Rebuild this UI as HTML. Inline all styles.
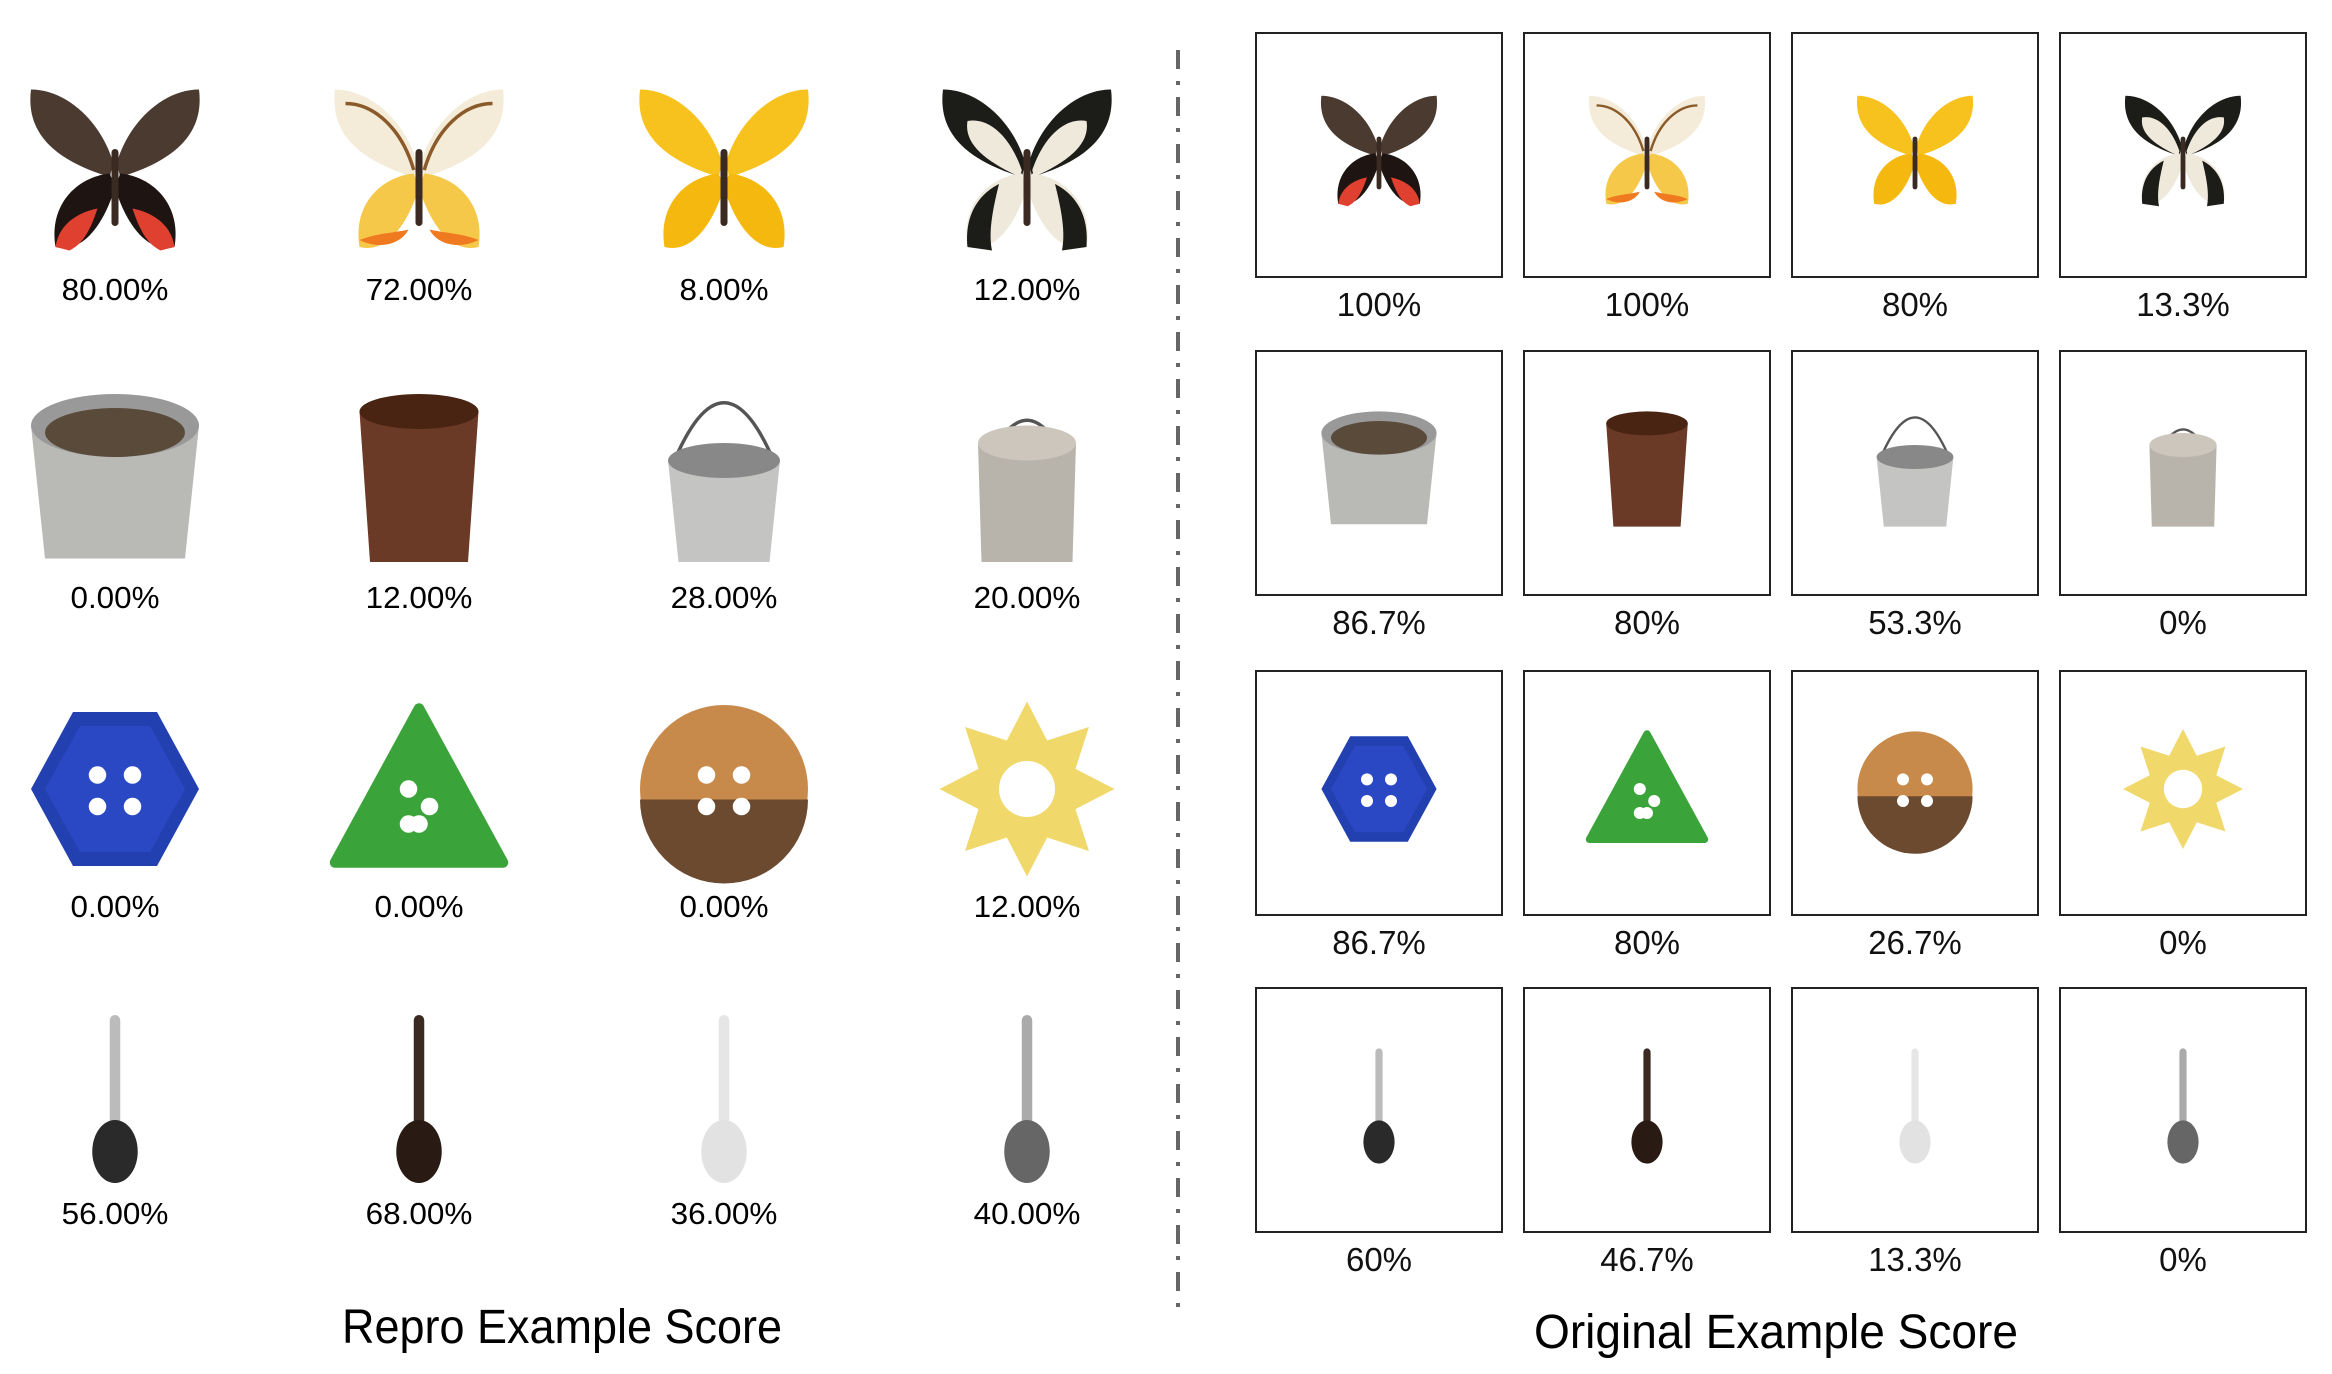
<!DOCTYPE html>
<html><head><meta charset="utf-8">
<style>
html,body{margin:0;padding:0;background:#fff;}
body{width:2332px;height:1374px;overflow:hidden;position:relative;}
svg{position:absolute;left:0;top:0;}
</style></head>
<body>
<svg id="fig" width="2332" height="1374" viewBox="0 0 2332 1374" xmlns="http://www.w3.org/2000/svg">
<g id="left-panel"></g>
<g id="right-panel"></g>
<line x1="1178" y1="50" x2="1178" y2="1318" stroke="#666" stroke-width="4" stroke-dasharray="19,12,4,12"/>
<text x="562" y="1343" text-anchor="middle" textLength="440" lengthAdjust="spacingAndGlyphs" font-family="'Liberation Sans Narrow','Liberation Sans',sans-serif" font-size="48" fill="#000">Repro Example Score</text>
<text x="1776" y="1348" text-anchor="middle" textLength="484" lengthAdjust="spacingAndGlyphs" font-family="'Liberation Sans Narrow','Liberation Sans',sans-serif" font-size="48" fill="#000">Original Example Score</text>
</svg>
<script>
const reproScores = ["80.00%","72.00%","8.00%","12.00%","0.00%","12.00%","28.00%","20.00%","0.00%","0.00%","0.00%","12.00%","56.00%","68.00%","36.00%","40.00%"];
const originalScores = ["100%","100%","80%","13.3%","86.7%","80%","53.3%","0%","86.7%","80%","26.7%","0%","60%","46.7%","13.3%","0%"];
const itemKinds = ["butterfly","butterfly","butterfly","butterfly","bucket","bucket","bucket","bucket","button","button","button","button","spoon","spoon","spoon","spoon"];

const NS="http://www.w3.org/2000/svg";
function el(tag,attrs,parent){const e=document.createElementNS(NS,tag);for(const k in attrs)e.setAttribute(k,attrs[k]);if(parent)parent.appendChild(e);return e;}

function butterfly(g,v){
  const pal=[["#4a3a30","#1e1412","#e0402f"],["#f4ecd8","#f5c84a","#f07a20"],["#f7c21e","#f5b80f","#e8a800"],["#efe9dc","#efe9dc","#1c1c18"]][v];
  [1,-1].forEach(s=>{
    const w=el('g',{transform:s<0?'translate(100,0) scale(-1,1)':''},g);
    el('path',{d:'M49,46 C42,22 22,4 2,4 C-1,28 14,44 47,54 Z',fill:v==3?'#1c1c18':pal[0]},w);
    if(v==3) el('path',{d:'M47,50 C40,30 28,20 16,22 C14,34 24,44 46,54 Z',fill:'#efe9dc'},w);
    if(v==1) el('path',{d:'M47,50 C40,26 24,12 8,12',stroke:'#8a5a2a',fill:'none','stroke-width':2},w);
    el('path',{d:'M47,52 C28,54 12,70 16,94 C32,98 44,80 50,60 Z',fill:pal[1]},w);
    if(v==0){el('path',{d:'M16,94 C18,80 30,74 40,72 C36,84 32,92 24,96 Z',fill:pal[2]},w);}
    if(v==1){el('path',{d:'M16,90 C28,96 40,92 44,84 C36,86 26,86 16,90 Z',fill:pal[2]},w);}
    if(v==3){el('path',{d:'M16,94 C14,72 26,62 34,58 C30,74 28,86 30,96 Z',fill:'#1c1c18'},w);}
  });
  el('rect',{x:48,y:38,width:4,height:44,rx:2,fill:'#3a2a22'},g);
}
function bucket(g,v){
  const col=["#b9b9b6","#6b3a26","#c4c4c2","#b8b4ac"][v];
  const dark=["#5a4a3a","#4a2412","#9a9a98","#a8a49c"][v];
  if(v==0){el('path',{d:'M2,20 L98,20 L90,96 L10,96 Z',fill:col},g);el('ellipse',{cx:50,cy:20,rx:48,ry:18,fill:'#999'},g);el('ellipse',{cx:50,cy:24,rx:40,ry:14,fill:dark},g);}
  if(v==1){el('path',{d:'M16,12 L84,12 L78,98 L22,98 Z',fill:col},g);el('ellipse',{cx:50,cy:12,rx:34,ry:10,fill:dark},g);}
  if(v==2){el('path',{d:'M20,44 Q50,-30 80,44',fill:'none',stroke:'#555','stroke-width':2},g);el('path',{d:'M18,40 L82,40 L76,98 L24,98 Z',fill:col},g);el('ellipse',{cx:50,cy:40,rx:32,ry:10,fill:'#888'},g);}
  if(v==3){el('path',{d:'M26,44 Q50,-10 74,44',fill:'none',stroke:'#555','stroke-width':2},g);el('path',{d:'M22,30 L78,30 L76,98 L24,98 Z',fill:col},g);el('ellipse',{cx:50,cy:30,rx:28,ry:10,fill:'#ccc6bc'},g);}
}
function button(g,v){
  if(v==0){el('polygon',{points:'26,6 74,6 98,50 74,94 26,94 2,50',fill:'#2340b0'},g);el('polygon',{points:'30,14 70,14 90,50 70,86 30,86 10,50',fill:'#2a48c4'},g);}
  if(v==1){el('path',{d:'M50,4 L98,92 L2,92 Z',fill:'#3aa43a','stroke-linejoin':'round',stroke:'#3aa43a','stroke-width':6},g);}
  if(v==2){el('circle',{cx:50,cy:50,r:48,fill:'#c88a4a'},g);el('path',{d:'M2,56 A48,48 0 0 0 98,56 Z',fill:'#6b4a30'},g);}
  if(v==3){let p=[];for(let i=0;i<16;i++){const r=i%2?30:50,a=i*Math.PI/8;p.push((50+r*Math.sin(a)).toFixed(1)+','+(50-r*Math.cos(a)).toFixed(1));}el('polygon',{points:p.join(' '),fill:'#f0d86a'},g);el('circle',{cx:50,cy:50,r:16,fill:'#fff'},g);return;}
  const holes=v==1?[[44,50],[56,60],[50,70],[44,70]]:[[40,42],[60,42],[40,60],[60,60]];
  holes.forEach(h=>el('circle',{cx:h[0],cy:h[1],r:5,fill:'#fff'},g));
}
function spoon(g,v){
  const c=["#bbb","#3a2a22","#e6e6e6","#aaa"][v];const b=["#2a2a2a","#2a1a14","#e2e2e2","#666"][v];
  el('rect',{x:47,y:2,width:6,height:64,rx:3,fill:c},g);
  el('ellipse',{cx:50,cy:80,rx:13,ry:18,fill:b},g);
}
function drawItem(parent,i,cx,cy,sc){
  const g=el('g',{transform:`translate(${cx-50*sc},${cy-50*sc}) scale(${sc})`},parent);
  
  
  const v=i%4;
  ({butterfly,bucket,button,spoon})[itemKinds[i]](g,v);
}
const L=document.getElementById('left-panel'), R=document.getElementById('right-panel');
const lx=[115,419,724,1027], ly=[170,478,789,1099], lty=[300,608,917,1224];
const bx=[1256,1524,1792,2060], by=[33,351,671,988], rty=[316,634,954,1271];
for(let i=0;i<16;i++){
  const c=i%4,r=Math.floor(i/4);
  drawItem(L,i,lx[c],ly[r],1.75);
  const t=el('text',{x:lx[c],y:lty[r],'text-anchor':'middle','font-family':"'Liberation Sans Narrow','Liberation Sans',sans-serif",'font-size':31,fill:'#000',lengthAdjust:'spacingAndGlyphs',textLength:reproScores[i].length*17.8},L);
  t.textContent=reproScores[i];
  
  
  const box=el('rect',{x:bx[c],y:by[r],width:246,height:244,fill:'#fff',stroke:'#222','stroke-width':2},R);
  
  
  drawItem(R,i,bx[c]+123,by[r]+118,1.2);
  const t2=el('text',{x:bx[c]+123,y:rty[r],'text-anchor':'middle','font-family':"'Liberation Sans',sans-serif",'font-size':33,fill:'#111'},R);
  t2.textContent=originalScores[i];
  
  
}
</script>
</body></html>
